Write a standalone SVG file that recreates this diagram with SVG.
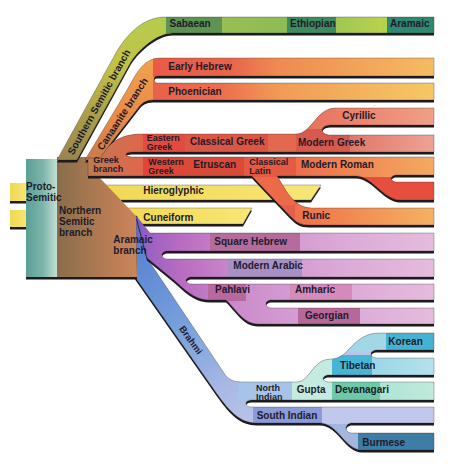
<svg xmlns="http://www.w3.org/2000/svg" width="450" height="466" viewBox="0 0 450 466">
<defs>
<style>
.sh{fill:#1c1a1d}
.ed{fill:none;stroke:#2a2224;stroke-width:0.6;stroke-opacity:0.5}
.t{font-family:"Liberation Sans",Arial,Helvetica,sans-serif;font-size:10px;font-weight:bold;fill:#1d1b2b}
.t2{font-size:9px}
.t3{font-size:9.5px}
</style>
<linearGradient id="gTeal" gradientUnits="userSpaceOnUse" x1="26" y1="0" x2="57" y2="0"><stop offset="0" stop-color="#5c9e94"/><stop offset="0.55" stop-color="#7cb6aa"/><stop offset="1" stop-color="#c4ded4"/></linearGradient>
<linearGradient id="gBrown" gradientUnits="userSpaceOnUse" x1="57" y1="0" x2="137" y2="0"><stop offset="0" stop-color="#8a6c4a"/><stop offset="0.35" stop-color="#a27650"/><stop offset="0.8" stop-color="#c27f56"/><stop offset="1" stop-color="#ca855a"/></linearGradient>
<linearGradient id="gYel"><stop offset="0" stop-color="#f0d852"/><stop offset="1" stop-color="#f8e676"/></linearGradient>
<linearGradient id="gS" gradientUnits="userSpaceOnUse" x1="0" y1="160" x2="0" y2="17"><stop offset="0" stop-color="#9a8650"/><stop offset="0.3" stop-color="#aa9c48"/><stop offset="0.65" stop-color="#c2c246"/><stop offset="1" stop-color="#b6cc4e"/></linearGradient>
<linearGradient id="gSh" gradientUnits="userSpaceOnUse" x1="160" y1="0" x2="434" y2="0"><stop offset="0" stop-color="#b4cc4e"/><stop offset="0.2" stop-color="#98c052"/><stop offset="0.5" stop-color="#8cbc54"/><stop offset="0.8" stop-color="#b6d24e"/><stop offset="1" stop-color="#a0c852"/></linearGradient>
<linearGradient id="gC" gradientUnits="userSpaceOnUse" x1="0" y1="160" x2="0" y2="58"><stop offset="0" stop-color="#c87a4a"/><stop offset="0.4" stop-color="#e88a48"/><stop offset="1" stop-color="#f2a24e"/></linearGradient>
<linearGradient id="gCh" gradientUnits="userSpaceOnUse" x1="150" y1="0" x2="434" y2="0"><stop offset="0" stop-color="#e85a48"/><stop offset="0.28" stop-color="#e9644a"/><stop offset="0.45" stop-color="#ef8a50"/><stop offset="1" stop-color="#f5bc62"/></linearGradient>
<linearGradient id="gCh2" gradientUnits="userSpaceOnUse" x1="150" y1="0" x2="434" y2="0"><stop offset="0" stop-color="#e8604a"/><stop offset="0.25" stop-color="#ec6e4c"/><stop offset="0.45" stop-color="#f29a54"/><stop offset="1" stop-color="#f6c866"/></linearGradient>
<linearGradient id="gGr" gradientUnits="userSpaceOnUse" x1="86" y1="0" x2="143" y2="0"><stop offset="0" stop-color="#c07a52"/><stop offset="1" stop-color="#e0664a"/></linearGradient>
<linearGradient id="gMG" gradientUnits="userSpaceOnUse" x1="350" y1="0" x2="434" y2="0"><stop offset="0" stop-color="#e07868"/><stop offset="1" stop-color="#eea296"/></linearGradient>
<linearGradient id="gCy" gradientUnits="userSpaceOnUse" x1="296" y1="0" x2="434" y2="0"><stop offset="0" stop-color="#e66e58"/><stop offset="1" stop-color="#f0a088"/></linearGradient>
<linearGradient id="gMR" gradientUnits="userSpaceOnUse" x1="296" y1="0" x2="434" y2="0"><stop offset="0" stop-color="#ee6e48"/><stop offset="1" stop-color="#f4aa62"/></linearGradient>
<linearGradient id="gRu" gradientUnits="userSpaceOnUse" x1="295" y1="0" x2="434" y2="0"><stop offset="0" stop-color="#ee7048"/><stop offset="1" stop-color="#f4b262"/></linearGradient>
<linearGradient id="gP" gradientUnits="userSpaceOnUse" x1="136" y1="0" x2="434" y2="0"><stop offset="0" stop-color="#6c5ccc"/><stop offset="0.04" stop-color="#9a60c4"/><stop offset="0.15" stop-color="#b86cc0"/><stop offset="0.35" stop-color="#cc8ccc"/><stop offset="0.7" stop-color="#dcaad8"/><stop offset="1" stop-color="#e4bcdc"/></linearGradient>
<linearGradient id="gB" gradientUnits="userSpaceOnUse" x1="140" y1="215" x2="300" y2="430"><stop offset="0" stop-color="#6a58c8"/><stop offset="0.12" stop-color="#5a86d4"/><stop offset="0.45" stop-color="#7aa2dc"/><stop offset="0.7" stop-color="#a8b8e4"/><stop offset="1" stop-color="#c4cceb"/></linearGradient>
<linearGradient id="gTi" gradientUnits="userSpaceOnUse" x1="372" y1="0" x2="434" y2="0"><stop offset="0" stop-color="#9ad6e6"/><stop offset="1" stop-color="#b4e2ec"/></linearGradient>
<linearGradient id="gDe" gradientUnits="userSpaceOnUse" x1="380" y1="0" x2="434" y2="0"><stop offset="0" stop-color="#aee4d4"/><stop offset="1" stop-color="#c0eadc"/></linearGradient>

<path id="pS" d="M57,160 L114.75,55 C123,40 140,17 165,17 H434 V33 H173 C156,33 136.4,52 129.8,64 L77,160 Z"/>
<path id="pC" d="M85,160 L125.8,92 C134.8,77 142,58 160,58 H434 V76 H157 C153,76 153,83 157,83 H434 V100 H153 C146,100 142,103 139,107 L108,147 L100,160 Z"/>
<path id="pG" d="M88,158 L100,158 L108,147 C116,139 125,134 142,134 H296 C312,134 316,108 336,108 H434 V125 H330 C325,125 322,128 322,130 C322,132.5 325,135 330,135 H434 V152 H132 C128,152 126,153 126,154.5 C126,156 128,157 132,157 H434 V175 H397 C393,175 391,177 391,178.5 C391,180 393,182 397,182 H434 V200 H400 C384,200 372,176 356,176 H277 C284,186 292,208 312,208 H434 V225 H309 C300,225 296,222 290,216 L252,176 H88 Z"/>
<path id="pH" d="M90,185 H321 L311,200 H90 Z"/>
<path id="pK" d="M110,208 H252 L243,224 H110 Z"/>
<path id="pB" d="M134,216 L137,216 L147,258 L226,376 C231,381 236,382 244,382 H297 C310,382 312,359 331,359 C350,359 352,333 380,333 H434 V350 H377 C373,350 371,352 371,354 C371,356 373,358 377,358 H434 V375 H329 C325,375 323,377 323,378.5 C323,380 325,382 329,382 H434 V400 H252 C248,400 246,401.5 246,403.5 C246,405.5 248,407 252,407 H434 V423 H352 C348,423 346,425.5 346,428 C346,430.5 348,433 352,433 H434 V450 H362 C345,450 338,423 320,423 H257 C240,423 230,412 217,394 L135,277 Z"/>
<path id="pP" d="M136,216 L150,233 H434 V251 H168 C164,251 162,253 162,255 C162,257 164,259 168,259 H434 V277 H192 C188,277 186,279 186,280.5 C186,282 188,284 192,284 H434 V300 H272 C268,300 266,302 266,304 C266,306 268,308 272,308 H434 V324 H258 C243,324 235,308 226,300 H210 C198,300 190,295 175,281 L147,258 Z"/>
<path id="pN" d="M57,157 L90,157 L98,176 L136,216 L137,277 L57,277 Z"/>
<clipPath id="cS"><use href="#pS"/></clipPath>
<clipPath id="cC"><use href="#pC"/></clipPath>
<clipPath id="cG"><use href="#pG"/></clipPath>
<clipPath id="cB"><use href="#pB"/></clipPath>
<clipPath id="cP"><use href="#pP"/></clipPath>
</defs>
<rect width="450" height="466" fill="#ffffff"/>

<g id="proto-semitic-stubs">
<rect class="sh" x="10" y="185.5" width="17" height="18"/>
<rect class="sh" x="10" y="212.5" width="17" height="17"/>
<rect x="10" y="183" width="17" height="18" fill="url(#gYel)"/>
<rect x="10" y="210" width="17" height="17" fill="url(#gYel)"/>
</g>

<g id="hieroglyphic">
<use href="#pH" class="sh" transform="translate(0,2.5)"/>
<use href="#pH" fill="url(#gYel)"/>
<use href="#pH" class="ed"/>
<text class="t" x="143.3" y="194">Hieroglyphic</text>
</g>

<g id="cuneiform">
<use href="#pK" class="sh" transform="translate(0,2.5)"/>
<use href="#pK" fill="url(#gYel)"/>
<use href="#pK" class="ed"/>
<text class="t" x="143.3" y="220.5">Cuneiform</text>
</g>

<g id="brahmi">
<use href="#pB" class="sh" transform="translate(0,2.5)"/>
<use href="#pB" fill="url(#gB)"/>
<g clip-path="url(#cB)">
<rect x="238" y="379" width="54" height="22" fill="#a6c4ea"/>
<rect x="292" y="328" width="40" height="73" fill="#c4ebe0"/>
<rect x="332" y="328" width="54" height="24" fill="#a2d8e6"/>
<rect x="386" y="328" width="48" height="24" fill="#46b2d2"/>
<rect x="332" y="355" width="40" height="22" fill="#46b6d6"/>
<rect x="372" y="355" width="62" height="22" fill="url(#gTi)"/>
<rect x="332" y="379" width="48" height="22" fill="#6ccaa8"/>
<rect x="380" y="379" width="54" height="22" fill="url(#gDe)"/>
<rect x="253" y="404" width="69" height="20" fill="#8c9ad8"/>
<rect x="322" y="404" width="112" height="20" fill="#c0c8ec"/>
<rect x="300" y="424" width="58" height="28" fill="#a2b6de"/>
<rect x="358" y="430" width="76" height="22" fill="#3e7ea6"/>
</g>
<use href="#pB" class="ed"/>
<text class="t t3" transform="translate(191,340) rotate(54)" text-anchor="middle" y="3.4">Brahmi</text>
<text class="t t2" x="256" y="391">North</text>
<text class="t t2" x="256" y="400">Indian</text>
<text class="t" x="296.7" y="393">Gupta</text>
<text class="t" x="335" y="393.3">Devanagari</text>
<text class="t" x="340" y="369">Tibetan</text>
<text class="t" x="388.3" y="345">Korean</text>
<text class="t" x="256.7" y="419.3">South Indian</text>
<text class="t" x="362.3" y="445.5">Burmese</text>
</g>

<g id="northern-semitic">
<use href="#pN" class="sh" transform="translate(0,2.5)"/>
<use href="#pN" fill="url(#gBrown)"/>
<text class="t" x="59" y="214.3">Northern</text>
<text class="t" x="59" y="225">Semitic</text>
<text class="t" x="59" y="235.7">branch</text>
</g>

<g id="proto-semitic">
<rect class="sh" x="26" y="161.5" width="31" height="118"/>
<rect x="26" y="159" width="31" height="118" fill="url(#gTeal)"/>
<text class="t" x="26" y="190">Proto-</text>
<text class="t" x="26" y="201">Semitic</text>
</g>

<g id="aramaic">
<use href="#pP" class="sh" transform="translate(0,2.5)"/>
<use href="#pP" fill="url(#gP)"/>
<g clip-path="url(#cP)">
<rect x="210" y="230" width="90" height="22" fill="#b46c9c"/>
<rect x="228" y="256" width="74" height="22" fill="#a890c4"/>
<rect x="208" y="281" width="38" height="20" fill="#b8689c"/>
<rect x="290" y="281" width="62" height="20" fill="#d48aba"/>
<rect x="298" y="305" width="62" height="20" fill="#b86898"/>
</g>
<use href="#pP" class="ed"/>
<text class="t" x="113.3" y="243.3">Aramaic</text>
<text class="t" x="113.3" y="254">branch</text>
<text class="t" x="214.3" y="245">Square Hebrew</text>
<text class="t" x="233.3" y="269.3">Modern Arabic</text>
<text class="t" x="215" y="293.3">Pahlavi</text>
<text class="t" x="295" y="292.7">Amharic</text>
<text class="t" x="305" y="319">Georgian</text>
</g>

<g id="southern-semitic">
<use href="#pS" class="sh" transform="translate(0,2.5)"/>
<use href="#pS" fill="url(#gS)"/>
<g clip-path="url(#cS)">
<rect x="160" y="14" width="274" height="22" fill="url(#gSh)"/>
<rect x="166" y="14" width="56" height="22" fill="#5e9452"/>
<rect x="287" y="14" width="49" height="22" fill="#3e8c5e"/>
<rect x="387" y="14" width="47" height="22" fill="#2f8870"/>
</g>
<use href="#pS" class="ed"/>
<text class="t" transform="translate(99,102) rotate(-61)" text-anchor="middle" y="3.5">Southern Semitic branch</text>
<text class="t" x="169.5" y="27">Sabaean</text>
<text class="t" x="290" y="27">Ethiopian</text>
<text class="t" x="390" y="27">Aramaic</text>
</g>

<g id="canaanite">
<use href="#pC" class="sh" transform="translate(0,2.5)"/>
<use href="#pC" fill="url(#gC)"/>
<g clip-path="url(#cC)">
<rect x="153" y="55" width="281" height="22" fill="url(#gCh)"/>
<rect x="153" y="80" width="281" height="21" fill="url(#gCh2)"/>
</g>
<use href="#pC" class="ed"/>
<text class="t" transform="translate(122.5,114) rotate(-57)" text-anchor="middle" y="3.5">Canaanite branch</text>
<text class="t" x="168.3" y="69.5">Early Hebrew</text>
<text class="t" x="168.3" y="94.5">Phoenician</text>
</g>

<g id="greek">
<use href="#pG" class="sh" transform="translate(0,2.5)"/>
<use href="#pG" fill="#e2604a"/>
<g clip-path="url(#cG)">
<rect x="80" y="128" width="63" height="52" fill="url(#gGr)"/>
<rect x="143" y="130" width="42" height="23.5" fill="#e24c40"/>
<rect x="185" y="130" width="83" height="23.5" fill="#dc5646"/>
<rect x="268" y="130" width="28" height="23.5" fill="#e2684e"/>
<rect x="296" y="104" width="138" height="25" fill="url(#gCy)"/>
<rect x="296" y="129" width="54" height="25" fill="#d85a4e"/>
<rect x="350" y="129" width="84" height="25" fill="url(#gMG)"/>
<rect x="143" y="155" width="43" height="22" fill="#e04636"/>
<rect x="186" y="155" width="58" height="22" fill="#da4a38"/>
<rect x="244" y="155" width="52" height="22" fill="#e45a42"/>
<rect x="296" y="155" width="138" height="22" fill="url(#gMR)"/>
<rect x="340" y="177" width="94" height="26" fill="#e64e40"/>
<rect x="240" y="177" width="100" height="28" fill="#ec6a48"/>
<rect x="295" y="205" width="139" height="22" fill="url(#gRu)"/>
</g>
<use href="#pG" class="ed"/>
<text class="t t2" x="93.3" y="162.5">Greek</text>
<text class="t t2" x="93.3" y="171.7">branch</text>
<text class="t t2" x="146.7" y="141.3">Eastern</text>
<text class="t t2" x="146.7" y="150.3">Greek</text>
<text class="t" x="190" y="145">Classical Greek</text>
<text class="t" x="298" y="145.5">Modern Greek</text>
<text class="t" x="342.3" y="119">Cyrillic</text>
<text class="t t2" x="148.3" y="165.3">Western</text>
<text class="t t2" x="148.3" y="174.3">Greek</text>
<text class="t" x="193.3" y="168.3">Etruscan</text>
<text class="t t2" x="249.3" y="165.3">Classical</text>
<text class="t t2" x="249.3" y="174.3">Latin</text>
<text class="t" x="301" y="168.3">Modern Roman</text>
<text class="t" x="302.3" y="219">Runic</text>
</g>
</svg>
